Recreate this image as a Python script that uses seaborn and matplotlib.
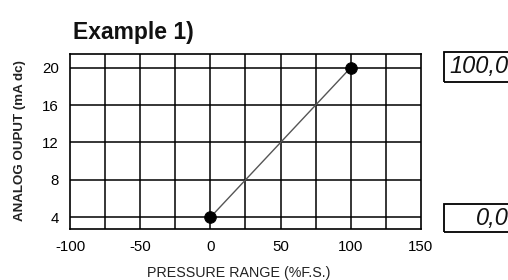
"""Analog output vs pressure range, example 1."""

import matplotlib
matplotlib.use("Agg")
import matplotlib.pyplot as plt
import pandas as pd
import seaborn as sns
from matplotlib.patches import Rectangle

# data
pressure = [0, 100]          # % F.S.
output_ma = [4, 20]          # mA dc
x_ticks = [-100, -50, 0, 50, 100, 150]
x_grid = [-75, -50, -25, 0, 25, 50, 75, 100, 125]
y_ticks = [4, 8, 12, 16, 20]
display_top = "100,0"
display_bottom = "0,0"

df = pd.DataFrame({"pressure": pressure, "output": output_ma})

sns.set_theme(style="white")
plt.rcParams["font.family"] = ["Liberation Sans", "DejaVu Sans"]
plt.rcParams["axes.unicode_minus"] = False

fig = plt.figure(figsize=(5.08, 2.8), dpi=100)
ax = fig.add_axes([0.1378, 0.1821, 0.6909, 0.625])

for gx in x_grid:
    ax.axvline(gx, color="black", lw=1.1, zorder=1)
for gy in y_ticks:
    ax.axhline(gy, color="black", lw=1.1, zorder=1)

sns.lineplot(data=df, x="pressure", y="output", ax=ax, color="#555555", lw=1.0, zorder=2)
sns.scatterplot(data=df, x="pressure", y="output", ax=ax, color="black", s=70,
                edgecolor="black", zorder=3)

ax.set_xlim(-100, 150)
ax.set_ylim(2.75, 21.45)
ax.set_xticks(x_ticks)
ax.set_yticks(y_ticks)
ax.tick_params(axis="both", length=0, labelsize=10.8, colors="black", pad=8)
for sp in ax.spines.values():
    sp.set_color("black")
    sp.set_linewidth(1.2)
ax.set_xlabel("")
ax.set_ylabel("")

fig.text(0.143, 0.885, "Example 1)", fontsize=16.5, fontweight="bold", color="#111111",
         ha="left", va="center")
fig.text(0.04, 0.497, "ANALOG OUPUT (mA dc)", rotation=90, fontsize=9.6,
         fontweight="bold", color="#222222", ha="center", va="center")
fig.text(0.469, 1 - 266 / 280, "PRESSURE RANGE (%F.S.)", fontsize=10.3, color="#222222",
         ha="center", va="top")

# LCD style readouts on the right
for (y0, y1, label) in [(52, 82, display_top), (204, 232, display_bottom)]:
    fig.add_artist(Rectangle((444 / 508, 1 - y1 / 280), 80 / 508, (y1 - y0) / 280,
                             transform=fig.transFigure, fill=False,
                             edgecolor="black", lw=1.3))
    fig.text(509 / 508, 1 - (y0 + y1) / 2 / 280, label, fontsize=17, style="italic",
             color="#111111", ha="right", va="center")

fig.savefig("out.png", dpi=100)
